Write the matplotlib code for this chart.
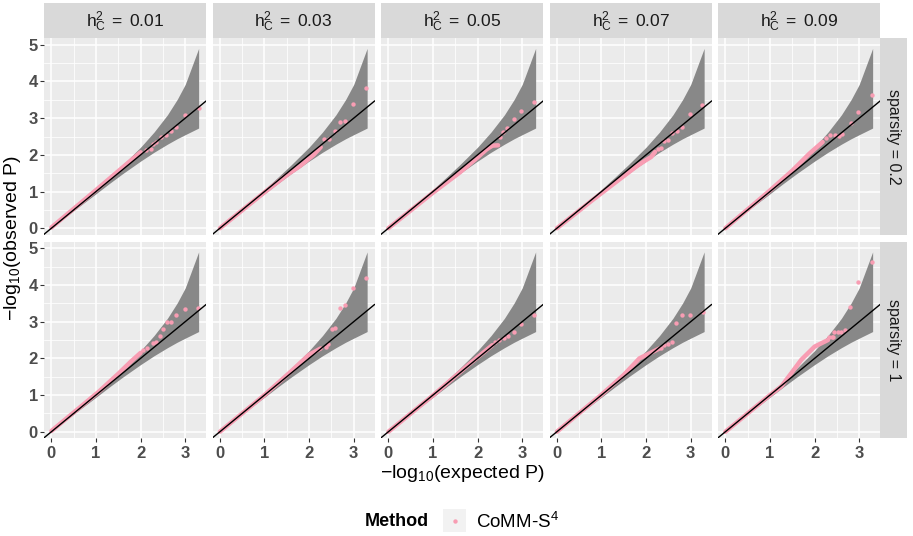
"""QQ plots of CoMM-S4 p-values: 2 sparsity levels x 5 values of h2_C, ggplot-like facets."""

import matplotlib as mpl
import matplotlib.pyplot as plt

mpl.rcParams.update({"font.family": "Liberation Sans", "mathtext.fontset": "custom",
                     "mathtext.rm": "Liberation Sans", "mathtext.it": "Liberation Sans:italic",
                     "mathtext.bf": "Liberation Sans:bold"})

H2C = ["0.01", "0.03", "0.05", "0.07", "0.09"]
SPARSITY = ["0.2", "1"]

# 95% band around the null line (same in every panel)
BAND_X = [0.0, 0.3, 0.6, 1.0, 1.3, 1.6, 2.0, 2.3, 2.6, 2.82, 3.0, 3.30]
BAND_LO = [0.0, 0.29, 0.57, 0.94, 1.22, 1.49, 1.83, 2.07, 2.29, 2.44, 2.55, 2.73]
BAND_HI = [0.0, 0.32, 0.64, 1.06, 1.39, 1.73, 2.21, 2.62, 3.09, 3.51, 3.92, 4.90]

# dense body of each QQ curve (expected, observed), rows = sparsity, cols = h2_C
TRACE_X = [
    [[0, 1.0, 1.6, 2.0], [0, 1.0, 1.5, 1.8, 2.1, 2.26], [0, 1.0, 1.6, 2.0, 2.2, 2.33, 2.46],
     [0, 0.8, 1.4, 1.8, 2.0, 2.11, 2.2], [0, 1.0, 1.5, 1.88, 2.18]],
    [[0, 1.07, 1.5, 1.78, 2.0], [0, 1.0, 1.6, 2.0, 2.26], [0, 1.0, 1.8, 2.33],
     [0, 1.0, 1.5, 1.85, 2.1, 2.3], [0, 1.0, 1.25, 1.48, 1.70, 2.0, 2.3]],
]
TRACE_Y = [
    [[0.02, 1.04, 1.66, 2.07], [0, 0.98, 1.45, 1.70, 2.0, 2.21], [0, 0.97, 1.52, 1.93, 2.15, 2.25, 2.26],
     [0, 0.77, 1.33, 1.70, 1.86, 1.94, 2.08], [0, 1.03, 1.57, 2.03, 2.35]],
    [[0.02, 1.10, 1.58, 1.91, 2.15], [0, 1.0, 1.65, 2.1, 2.27], [0, 0.99, 1.83, 2.36],
     [0, 1.01, 1.55, 2.0, 2.15, 2.27], [0, 1.0, 1.23, 1.60, 1.96, 2.32, 2.50]],
]

# sparse tail points
TAIL_X = [
    [[2.12, 2.23, 2.28, 2.34, 2.45, 2.57, 2.68, 2.79, 2.99, 3.30],
     [2.33, 2.45, 2.58, 2.69, 2.81, 2.98, 3.27],
     [2.51, 2.57, 2.66, 2.81, 2.98, 3.27],
     [2.26, 2.33, 2.40, 2.48, 2.57, 2.69, 2.81, 2.98, 3.26],
     [2.25, 2.35, 2.45, 2.55, 2.62, 2.81, 2.98, 3.28]],
    [[2.06, 2.15, 2.28, 2.34, 2.44, 2.51, 2.59, 2.68, 2.80, 2.99, 3.29],
     [2.38, 2.43, 2.51, 2.58, 2.69, 2.81, 2.98, 3.27],
     [2.40, 2.49, 2.60, 2.68, 2.81, 2.98, 3.27],
     [2.33, 2.40, 2.48, 2.57, 2.68, 2.81, 2.98, 3.28],
     [2.33, 2.38, 2.42, 2.44, 2.52, 2.60, 2.68, 2.80, 2.98, 3.28]],
]
TAIL_Y = [
    [[2.14, 2.17, 2.30, 2.35, 2.50, 2.53, 2.64, 2.77, 3.09, 3.28],
     [2.42, 2.44, 2.66, 2.90, 2.93, 3.39, 3.81],
     [2.48, 2.62, 2.74, 2.97, 3.19, 3.45],
     [2.15, 2.19, 2.39, 2.41, 2.59, 2.64, 2.77, 3.10, 3.37],
     [2.47, 2.53, 2.53, 2.52, 2.57, 2.86, 3.18, 3.63]],
    [[2.23, 2.27, 2.41, 2.45, 2.61, 2.79, 3.0, 3.0, 3.18, 3.35, 3.38],
     [2.30, 2.39, 2.81, 2.83, 3.36, 3.45, 3.91, 4.19],
     [2.45, 2.50, 2.56, 2.61, 2.71, 2.93, 3.17],
     [2.27, 2.36, 2.39, 2.45, 2.97, 3.17, 3.17, 3.27],
     [2.59, 2.59, 2.59, 2.73, 2.73, 2.73, 2.77, 3.41, 4.07, 4.62]],
]

PINK = "#F89DB3"; BAND = "#888888"; PANEL = "#EBEBEB"; STRIP = "#D9D9D9"
TICKC = "#4D4D4D"

W, H = 913, 536
fig = plt.figure(figsize=(W / 100, H / 100), dpi=100)


def box(x0, y0, w, h):
    return [x0 / W, 1 - (y0 + h) / H, w / W, h / H]


PL, PW, PG = 44, 162, 6.5
ROWS = [38.5, 242]; PH = 196
for r, sp in enumerate(SPARSITY):
    for c, h2 in enumerate(H2C):
        ax = fig.add_axes(box(PL + c * (PW + PG), ROWS[r], PW, PH))
        ax.set_facecolor(PANEL)
        ax.fill_between(BAND_X, BAND_LO, BAND_HI, color=BAND, lw=0, zorder=1)
        ax.plot(TRACE_X[r][c], TRACE_Y[r][c], color=PINK, lw=3.2, solid_capstyle="round",
                solid_joinstyle="round", zorder=2)
        ax.scatter(TAIL_X[r][c], TAIL_Y[r][c], s=10, color=PINK, lw=0, zorder=2)
        ax.axline((0, 0), slope=1, color="black", lw=1.0, zorder=3)
        ax.set_xlim(-0.165, 3.465); ax.set_ylim(-0.17, 5.17)
        ax.set_xticks([0, 1, 2, 3]); ax.set_xticks([0.5, 1.5, 2.5], minor=True)
        ax.set_yticks(range(6)); ax.set_yticks([0.5, 1.5, 2.5, 3.5, 4.5], minor=True)
        ax.grid(which="major", color="white", lw=1.1)
        ax.grid(which="minor", color="white", lw=0.55)
        ax.set_axisbelow(True)
        for s in ax.spines.values():
            s.set_visible(False)
        ax.tick_params(which="minor", length=0)
        ax.tick_params(which="major", length=3, width=0.8, color="#333333", labelcolor=TICKC,
                       labelsize=12, pad=1.5)
        ax.tick_params(left=(c == 0), labelleft=(c == 0), bottom=(r == 1), labelbottom=(r == 1))
        for t in ax.get_xticklabels() + ax.get_yticklabels():
            t.set_fontweight("bold")
        if r == 1:
            ax.tick_params(axis="x", pad=2.5)
        if r == 0:
            st = fig.add_axes(box(PL + c * (PW + PG), 3, PW, 35.5))
            st.set_facecolor(STRIP); st.set_xticks([]); st.set_yticks([])
            for s in st.spines.values():
                s.set_visible(False)
            st.text(0.5, 0.47, r"$\mathrm{h_C^2}\;=\;\mathrm{%s}$" % h2, ha="center", va="center",
                    fontsize=12.5, color="#1A1A1A", transform=st.transAxes)
    rs = fig.add_axes(box(PL + 5 * PW + 4 * PG, ROWS[r], 27, PH))
    rs.set_facecolor(STRIP); rs.set_xticks([]); rs.set_yticks([])
    for s in rs.spines.values():
        s.set_visible(False)
    rs.text(0.5, 0.5, "sparsity = %s" % sp, rotation=-90, ha="center", va="center",
            fontsize=11.5, color="#1A1A1A", transform=rs.transAxes)

fig.text(13 / W, 1 - 238 / H, r"$-\mathrm{log_{10}(observed\ P)}$", rotation=90,
         ha="center", va="center", fontsize=14)
fig.text(462 / W, 1 - 474 / H, r"$-\mathrm{log_{10}(expected\ P)}$",
         ha="center", va="center", fontsize=14)

# legend
fig.text(365 / W, 1 - 521 / H, "Method", ha="left", va="center", fontsize=13, fontweight="bold")
key = fig.add_axes(box(443, 509, 23, 23))
key.set_facecolor("#F2F2F2"); key.set_xticks([]); key.set_yticks([])
for s in key.spines.values():
    s.set_visible(False)
key.scatter([0.5], [0.5], s=10, color=PINK, lw=0); key.set_xlim(0, 1); key.set_ylim(0, 1)
fig.text(476 / W, 1 - 522 / H, r"CoMM-S$^4$", ha="left", va="center", fontsize=13.5)

fig.savefig("out.png", dpi=100)
